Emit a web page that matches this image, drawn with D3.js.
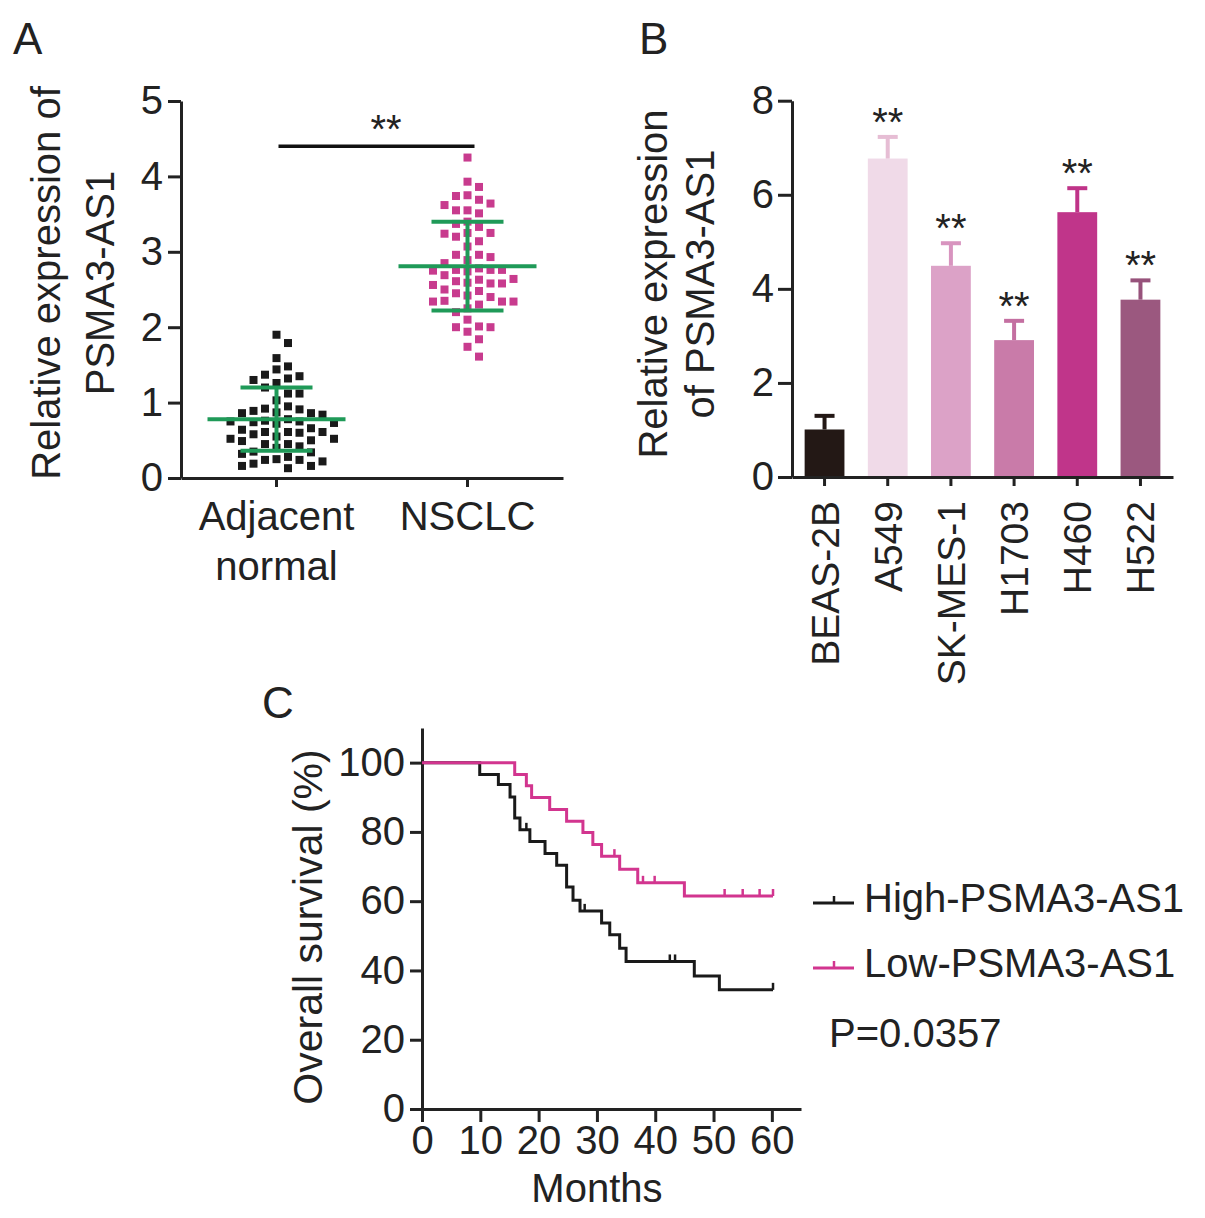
<!DOCTYPE html>
<html><head><meta charset="utf-8">
<script src="https://cdn.jsdelivr.net/npm/d3@7"></script>
<style>
body{margin:0;background:#fff}
text{font-family:"Liberation Sans",Arial,Helvetica,sans-serif;fill:#222}
</style>
</head><body>
<svg id="c" width="1205" height="1218"></svg>
<script>
// ---------------- DATA ----------------
// Panel A
const groupsA = ["Adjacent normal", "NSCLC"];
const adjacentValues = [1.90, 1.79, 1.59, 1.48, 1.44, 1.37, 1.35, 1.32, 1.30, 1.26, 1.20, 1.12, 1.12, 1.03, 0.95,
  0.92, 0.91, 0.89, 0.87, 0.86, 0.86, 0.84, 0.78, 0.76, 0.75, 0.75, 0.74, 0.73, 0.72, 0.66, 0.64, 0.61, 0.61,
  0.61, 0.60, 0.58, 0.55, 0.52, 0.52, 0.50, 0.49, 0.45, 0.45, 0.42, 0.40, 0.35, 0.34, 0.32, 0.28, 0.25, 0.24,
  0.24, 0.22, 0.19, 0.16, 0.16, 0.13];
const nsclcValues = [4.25, 3.93, 3.86, 3.75, 3.74, 3.69, 3.64, 3.62, 3.55, 3.55, 3.51, 3.40, 3.37, 3.33, 3.25,
  3.25, 3.24, 3.20, 3.14, 3.07, 2.96, 2.96, 2.93, 2.89, 2.85, 2.78, 2.76, 2.76, 2.76, 2.75, 2.74, 2.69, 2.64,
  2.63, 2.61, 2.59, 2.58, 2.58, 2.56, 2.50, 2.48, 2.45, 2.42, 2.40, 2.35, 2.34, 2.34, 2.34, 2.30, 2.25, 2.20,
  2.10, 2.01, 2.00, 2.00, 1.94, 1.84, 1.74, 1.61];
const groupMeans = [0.78, 2.81];
const groupSDs = [0.42, 0.59];
const ticksA = [0, 1, 2, 3, 4, 5];
const sigLevelA = 4.4;

// Panel B
const cellLines = ["BEAS-2B", "A549", "SK-MES-1", "H1703", "H460", "H522"];
const cellMeans = [1.01, 6.77, 4.49, 2.91, 5.63, 3.77];
const cellErrors = [0.29, 0.46, 0.48, 0.41, 0.51, 0.41];
const cellSig = ["", "**", "**", "**", "**", "**"];
const ticksB = [0, 2, 4, 6, 8];

// Panel C (Kaplan-Meier)
const highTimes = [0, 9.9, 13.1, 15.1, 15.9, 16.8, 18.5, 21.1, 23.1, 24.8, 25.9, 27.1, 30.8, 32.2, 33.9, 35.0, 46.7, 51.0, 60.2];
const highSurv  = [100, 96.6, 93.7, 90.1, 84.0, 80.6, 77.2, 73.8, 70.4, 64.1, 60.3, 57.2, 53.7, 50.3, 46.4, 42.6, 38.4, 34.4, 34.4];
const highCensorTimes = [17.9, 27.9, 42.5, 43.4, 60.2];
const highCensorSurv  = [80.6, 57.2, 42.6, 42.6, 34.4];
const lowTimes = [0, 15.9, 17.9, 18.8, 21.9, 24.8, 27.6, 29.3, 30.8, 33.9, 37.0, 45.0, 60.2];
const lowSurv  = [100, 96.6, 93.3, 89.9, 86.5, 83.1, 79.8, 76.4, 73.0, 69.2, 65.3, 61.5, 61.5];
const lowCensorTimes = [33.0, 37.9, 39.9, 51.9, 55.0, 57.9, 60.2];
const lowCensorSurv  = [73.0, 65.3, 65.3, 61.5, 61.5, 61.5, 61.5];
const ticksCx = [0, 10, 20, 30, 40, 50, 60];
const ticksCy = [0, 20, 40, 60, 80, 100];
const seriesC = ["High-PSMA3-AS1", "Low-PSMA3-AS1"];
const pValueText = "P=0.0357";

// ---------------- DRAW ----------------
const svg = d3.select("#c");
const INK = "#222";
const GREEN = "#1f9a58";
const PINK_DOT = "#c83b8e";
const KM_PINK = "#d2358f";
const TICKFS = 40;

function styleAxis(g, fs) {
  g.select(".domain").attr("stroke", INK).attr("stroke-width", 3);
  g.selectAll(".tick line").attr("stroke", INK).attr("stroke-width", 3);
  g.selectAll(".tick text").style("font-size", fs + "px").attr("fill", INK);
}

// Panel letters
svg.append("text").attr("x", 13).attr("y", 54).style("font-size", "44px").text("A");
svg.append("text").attr("x", 639).attr("y", 54).style("font-size", "44px").text("B");
svg.append("text").attr("x", 262).attr("y", 718).style("font-size", "44px").text("C");

// ===== Panel A =====
const yA = d3.scaleLinear().domain([0, 5]).range([478, 101]);
const xA = d3.scaleBand().domain(groupsA).range([181, 563]).padding(0);
const gA = svg.append("g");

gA.append("g").attr("transform", "translate(181,0)")
  .call(d3.axisLeft(yA).tickValues(ticksA).tickFormat(d3.format("d")).tickSize(13).tickPadding(5).tickSizeOuter(0))
  .call(g => styleAxis(g, TICKFS));
gA.append("g").attr("transform", "translate(0,478)")
  .call(d3.axisBottom(xA).tickSize(9).tickFormat("").tickSizeOuter(0))
  .call(g => styleAxis(g, TICKFS));

// category labels
const catLines = [["Adjacent", "normal"], ["NSCLC"]];
groupsA.forEach((grp, i) => {
  const t = gA.append("text").attr("text-anchor", "middle").style("font-size", "40px");
  catLines[i].forEach((ln, j) => {
    t.append("tspan").attr("x", xA(grp) + xA.bandwidth() / 2).attr("y", 530 + j * 50).text(ln);
  });
});

// y label
const ylabA = gA.append("text").attr("transform", "translate(0,283) rotate(-90)")
  .attr("text-anchor", "middle").style("font-size", "40px");
ylabA.append("tspan").attr("x", 0).attr("y", 60).text("Relative expression of");
ylabA.append("tspan").attr("x", 0).attr("y", 114).text("PSMA3-AS1");

// swarm layout (column dodge)
function swarm(values, yScale, gap) {
  const placed = [];
  return values.slice().sort((a, b) => b - a).map(v => {
    const y = yScale(v);
    for (let k = 0; k < 60; k++) {
      const col = k === 0 ? 0 : (k % 2 ? (k + 1) / 2 : -k / 2);
      if (!placed.some(p => p.col === col && Math.abs(p.y - y) < gap)) {
        placed.push({col, y});
        return {v, y, col};
      }
    }
  });
}
const SQ = 8, COLW = 11.5;
const groupData = [adjacentValues, nsclcValues];
const groupColors = ["#1a1a1a", PINK_DOT];
groupsA.forEach((grp, i) => {
  const cx = xA(grp) + xA.bandwidth() / 2;
  const pts = swarm(groupData[i], yA, 11);
  gA.append("g").selectAll("rect").data(pts).join("rect")
    .attr("x", d => cx + d.col * COLW - SQ / 2)
    .attr("y", d => d.y - SQ / 2)
    .attr("width", SQ).attr("height", SQ)
    .attr("fill", groupColors[i]);
});
// mean +- SD
groupsA.forEach((grp, i) => {
  const cx = xA(grp) + xA.bandwidth() / 2;
  const m = groupMeans[i], s = groupSDs[i];
  const g = gA.append("g").attr("stroke", GREEN).attr("stroke-width", 4);
  g.append("line").attr("x1", cx - 69).attr("x2", cx + 69).attr("y1", yA(m)).attr("y2", yA(m));
  g.append("line").attr("x1", cx).attr("x2", cx).attr("y1", yA(m - s)).attr("y2", yA(m + s));
  g.append("line").attr("x1", cx - 36).attr("x2", cx + 36).attr("y1", yA(m + s)).attr("y2", yA(m + s));
  g.append("line").attr("x1", cx - 36).attr("x2", cx + 36).attr("y1", yA(m - s)).attr("y2", yA(m - s));
});
// significance
{
  const x1 = xA(groupsA[0]) + xA.bandwidth() / 2 + 2;
  const x2 = xA(groupsA[1]) + xA.bandwidth() / 2 + 7;
  gA.append("line").attr("x1", x1).attr("x2", x2).attr("y1", yA(sigLevelA)).attr("y2", yA(sigLevelA))
    .attr("stroke", "#111").attr("stroke-width", 3.5);
  gA.append("text").attr("x", 386).attr("y", yA(sigLevelA) - 3).attr("text-anchor", "middle")
    .style("font-size", "40px").text("**");
}

// ===== Panel B =====
const yB = d3.scaleLinear().domain([0, 8]).range([477, 100.7]);
const xB = d3.scaleBand().domain(cellLines).range([792, 1173]).paddingInner(0.37).paddingOuter(0.2);
const barColors = ["#231815", "#f0dae8", "#dca2c7", "#c97ba9", "#c0358a", "#9b587f"];
const errColors = ["#231815", "#e6bdd4", "#d894bf", "#c46fa1", "#bf3388", "#97527b"];
const gB = svg.append("g");

gB.selectAll("rect.bar").data(cellLines).join("rect").attr("class", "bar")
  .attr("x", d => xB(d)).attr("width", xB.bandwidth())
  .attr("y", (d, i) => yB(cellMeans[i])).attr("height", (d, i) => yB(0) - yB(cellMeans[i]))
  .attr("fill", (d, i) => barColors[i]);
cellLines.forEach((c, i) => {
  const cx = xB(c) + xB.bandwidth() / 2;
  const top = yB(cellMeans[i] + cellErrors[i]);
  const g = gB.append("g").attr("stroke", errColors[i]).attr("stroke-width", 4);
  g.append("line").attr("x1", cx).attr("x2", cx).attr("y1", yB(cellMeans[i])).attr("y2", top);
  g.append("line").attr("x1", cx - 10).attr("x2", cx + 10).attr("y1", top).attr("y2", top);
  if (cellSig[i]) {
    gB.append("text").attr("x", cx).attr("y", top - 1).attr("text-anchor", "middle")
      .style("font-size", "40px").text(cellSig[i]);
  }
});
gB.append("g").attr("transform", "translate(792,0)")
  .call(d3.axisLeft(yB).tickValues(ticksB).tickSize(14).tickPadding(4).tickSizeOuter(0))
  .call(g => styleAxis(g, TICKFS));
gB.append("g").attr("transform", "translate(0,477)")
  .call(d3.axisBottom(xB).tickSize(9).tickFormat("").tickSizeOuter(0))
  .call(g => styleAxis(g, TICKFS));
gB.selectAll("text.xl").data(cellLines).join("text").attr("class", "xl")
  .attr("transform", d => `translate(${xB(d) + xB.bandwidth() / 2 + 14},501) rotate(-90)`)
  .attr("text-anchor", "end").style("font-size", "39px").text(d => d);
const ylabB = gB.append("text").attr("transform", "translate(0,284) rotate(-90)")
  .attr("text-anchor", "middle").style("font-size", "40px");
ylabB.append("tspan").attr("x", 0).attr("y", 667).text("Relative expression");
ylabB.append("tspan").attr("x", 0).attr("y", 714).text("of PSMA3-AS1");

// ===== Panel C =====
const xC = d3.scaleLinear().domain([0, 65]).range([422, 801]);
const yC = d3.scaleLinear().domain([0, 110]).range([1109, 728]);
const gC = svg.append("g");
gC.append("g").attr("transform", "translate(422,0)")
  .call(d3.axisLeft(yC).tickValues(ticksCy).tickSize(12).tickPadding(5).tickSizeOuter(0))
  .call(g => styleAxis(g, TICKFS));
gC.append("g").attr("transform", "translate(0,1109)")
  .call(d3.axisBottom(xC).tickValues(ticksCx).tickSize(13).tickPadding(4).tickSizeOuter(0))
  .call(g => styleAxis(g, TICKFS));
gC.append("text").attr("x", xC(30)).attr("y", 1202).attr("text-anchor", "middle")
  .style("font-size", "40px").text("Months");
gC.append("text").attr("transform", "translate(322,927) rotate(-90)").attr("text-anchor", "middle")
  .style("font-size", "41px").text("Overall survival (%)");

const km = d3.line().x(d => xC(d[0])).y(d => yC(d[1])).curve(d3.curveStepAfter);
const kmSeries = [
  {times: highTimes, surv: highSurv, ct: highCensorTimes, cs: highCensorSurv, color: "#1a1a1a"},
  {times: lowTimes, surv: lowSurv, ct: lowCensorTimes, cs: lowCensorSurv, color: KM_PINK}
];
kmSeries.forEach(s => {
  gC.append("path").datum(s.times.map((t, i) => [t, s.surv[i]]))
    .attr("d", km).attr("fill", "none").attr("stroke", s.color).attr("stroke-width", 3);
  gC.append("g").selectAll("line").data(s.ct.map((t, i) => [t, s.cs[i]])).join("line")
    .attr("x1", d => xC(d[0])).attr("x2", d => xC(d[0]))
    .attr("y1", d => yC(d[1])).attr("y2", d => yC(d[1]) - 7)
    .attr("stroke", s.color).attr("stroke-width", 2.5);
});

// legend
const legY = [903, 968];
seriesC.forEach((name, i) => {
  const col = kmSeries[i].color;
  gC.append("line").attr("x1", 813).attr("x2", 854).attr("y1", legY[i]).attr("y2", legY[i])
    .attr("stroke", col).attr("stroke-width", 3);
  gC.append("line").attr("x1", 834).attr("x2", 834).attr("y1", legY[i]).attr("y2", legY[i] - 7)
    .attr("stroke", col).attr("stroke-width", 2.5);
  gC.append("text").attr("x", 864).attr("y", legY[i] + 9).style("font-size", "40px").text(name);
});
gC.append("text").attr("x", 829).attr("y", 1047).style("font-size", "40px").text(pValueText);
</script>
</body></html>
